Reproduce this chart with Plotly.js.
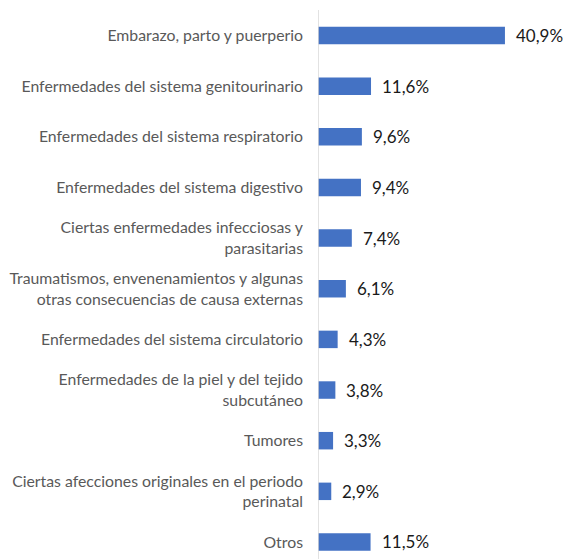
<!DOCTYPE html>
<html>
<head>
<meta charset="utf-8">
<script src="https://cdn.plot.ly/plotly-3.0.1.min.js"></script>
<style>html,body{margin:0;padding:0;background:#fff;}#chart{width:563px;height:559px;}</style>
</head>
<body>
<div id="chart"></div>
<script>
const categories = [
  "Embarazo, parto y puerperio",
  "Enfermedades del sistema genitourinario",
  "Enfermedades del sistema respiratorio",
  "Enfermedades del sistema digestivo",
  "Ciertas enfermedades infecciosas y<br>parasitarias",
  "Traumatismos, envenenamientos y algunas<br>otras consecuencias de causa externas",
  "Enfermedades del sistema circulatorio",
  "Enfermedades de la piel y del tejido<br>subcutáneo",
  "Tumores",
  "Ciertas afecciones originales en el periodo<br>perinatal",
  "Otros"
];
const values = [40.9, 11.6, 9.6, 9.4, 7.4, 6.1, 4.3, 3.8, 3.3, 2.9, 11.5];
const valueLabels = ["40,9%", "11,6%", "9,6%", "9,4%", "7,4%", "6,1%", "4,3%", "3,8%", "3,3%", "2,9%", "11,5%"];

const FONT = "Lato, 'Open Sans', sans-serif";

const trace = {
  type: "bar",
  orientation: "h",
  x: values,
  y: categories,
  width: 0.345,
  marker: {color: "#4472C4"},
  hoverinfo: "none"
};

const annotations = values.map((v, i) => ({
  x: v, y: categories[i], xref: "x", yref: "y",
  text: valueLabels[i], showarrow: false,
  xanchor: "left", xshift: 9,
  font: {family: FONT, size: 17, color: "#1a1a1a"}
}));

const layout = {
  width: 563, height: 559,
  margin: {l: 318, r: 0, t: 0, b: 0},
  paper_bgcolor: "#fff", plot_bgcolor: "#fff",
  showlegend: false,
  xaxis: {range: [0, 53.6], visible: false, fixedrange: true},
  yaxis: {
    type: "category",
    range: [10.336, -0.701],
    showgrid: false, zeroline: false, showline: false,
    ticks: "", ticklabelstandoff: 14,
    tickfont: {family: FONT, size: 15.8, color: "#595959"},
    fixedrange: true
  },
  shapes: [{type: "line", xref: "x", yref: "paper", x0: 0, x1: 0, y0: 0, y1: 0.982,
            line: {color: "#d9d9d9", width: 1.5}}],
  annotations: annotations
};

Plotly.newPlot("chart", [trace], layout, {displayModeBar: false, staticPlot: true});
</script>
</body>
</html>
